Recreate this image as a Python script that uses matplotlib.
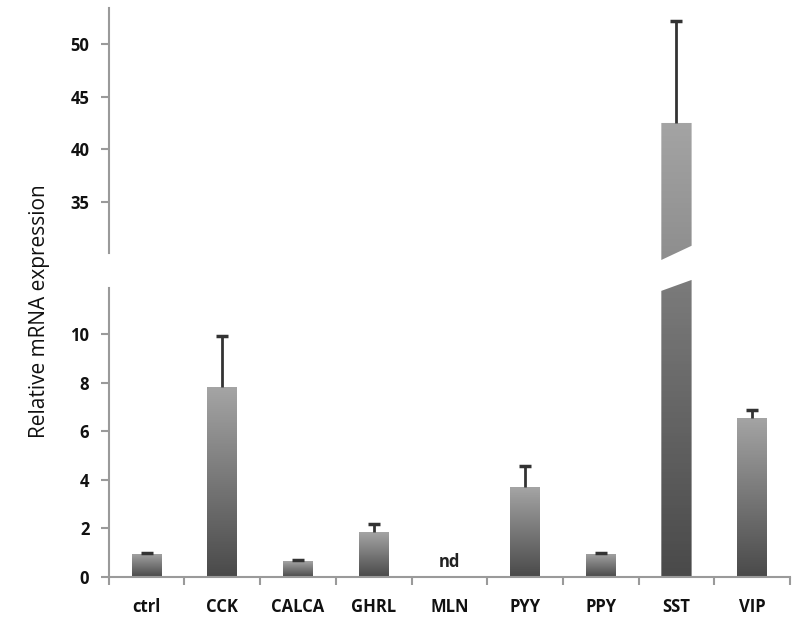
import matplotlib.pyplot as plt
import numpy as np
from matplotlib.colors import LinearSegmentedColormap
from matplotlib.patches import Polygon

genes = ["ctrl", "CCK", "CALCA", "GHRL", "MLN", "PYY", "PPY", "SST", "VIP"]
means = [0.95, 7.8, 0.65, 1.85, 0.0, 3.7, 0.95, 42.5, 6.55]
errs = [0.05, 2.1, 0.05, 0.35, 0.0, 0.85, 0.05, 9.7, 0.3]
nd_genes = ["MLN"]

plt.rcParams['font.family'] = ['Open Sans', 'DejaVu Sans']

grey = "#9a9a9a"
cmap = LinearSegmentedColormap.from_list("bar", ["#4a4a4a", "#a4a4a4"])
width = 0.4
x = np.arange(len(genes))

fig = plt.figure(figsize=(8, 6.23), dpi=100)
ax_lo = fig.add_axes([0.136, 0.0738, 0.8515, 0.480])
ax_hi = fig.add_axes([0.136, 0.581, 0.8515, 0.406])

lo_top, lo_spine = 12.3, 11.9
hi_bot, hi_spine, hi_top = 29.4, 30.2, 53.4


def gradient_bar(ax, x0, y0, y1, c0, c1, verts=None):
    grad = np.linspace(c0, c1, 100).reshape(-1, 1)
    im = ax.imshow(grad, cmap=cmap, vmin=0, vmax=1, origin="lower",
                   extent=(x0 - width / 2, x0 + width / 2, y0, y1),
                   aspect="auto", zorder=2)
    if verts is None:
        verts = [(x0 - width / 2, y0), (x0 + width / 2, y0),
                 (x0 + width / 2, y1), (x0 - width / 2, y1)]
    poly = Polygon(verts, closed=True, facecolor="none", edgecolor="none",
                   transform=ax.transData)
    ax.add_patch(poly)
    im.set_clip_path(poly)


def upper_err(ax, x0, m, e):
    # error bar drawn only upwards, cap at the top
    ax.vlines(x0, m, m + e, color="#333333", linewidth=2, zorder=3)
    ax.plot([x0], [m + e], marker="_", markersize=9, markeredgewidth=2.5,
            color="#333333", zorder=3)


for i, g in enumerate(genes):
    m, e = means[i], errs[i]
    if g in nd_genes:
        ax_lo.text(i, 0.6, "nd", ha="center", va="center", fontsize=12,
                   fontweight="bold", color="#222222")
        continue
    if m <= lo_top:
        gradient_bar(ax_lo, i, 0, m, 0.0, 1.0)
        upper_err(ax_lo, i, m, e)
    else:
        # broken bar: lower piece with slanted top, upper piece with slanted bottom
        verts_lo = [(i - width / 2, 0), (i + width / 2, 0),
                    (i + width / 2, 12.22), (i - width / 2, 11.77)]
        gradient_bar(ax_lo, i, 0, 12.3, 0.0, 0.55, verts_lo)
        verts_hi = [(i - width / 2, 29.5), (i + width / 2, 30.85),
                    (i + width / 2, m), (i - width / 2, m)]
        gradient_bar(ax_hi, i, 29.4, m, 0.75, 1.0, verts_hi)
        upper_err(ax_hi, i, m, e)

for ax in (ax_lo, ax_hi):
    ax.set_xlim(-0.5, len(genes) - 0.5)
    for s in ("top", "right"):
        ax.spines[s].set_visible(False)
    ax.spines["left"].set_color(grey)
    ax.spines["left"].set_linewidth(1.5)
    ax.tick_params(axis="y", direction="out", length=6, width=1.5, color=grey,
                   labelsize=12, labelcolor="#111111", pad=8)

ax_lo.set_ylim(0, lo_top)
ax_lo.spines["left"].set_bounds(0, lo_spine)
ax_lo.set_yticks([0, 2, 4, 6, 8, 10])
ax_lo.spines["bottom"].set_color(grey)
ax_lo.spines["bottom"].set_linewidth(1.5)
ax_lo.set_xticks(np.arange(-0.5, len(genes)), minor=False)
ax_lo.set_xticklabels([])
ax_lo.set_xticks(x, minor=True)
ax_lo.set_xticklabels(genes, minor=True)
ax_lo.tick_params(axis="x", which="major", direction="out", length=6,
                  width=1.5, color=grey)
ax_lo.tick_params(axis="x", which="minor", length=0, pad=15, labelsize=12,
                  labelcolor="#111111")

ax_hi.set_ylim(hi_bot, hi_top)
ax_hi.spines["left"].set_bounds(hi_spine, hi_top)
ax_hi.spines["bottom"].set_visible(False)
ax_hi.set_yticks([35, 40, 45, 50])
ax_hi.set_xticks([])

for ax in (ax_lo, ax_hi):
    for lab in ax.get_yticklabels() + ax.get_xticklabels(minor=True):
        lab.set_fontweight("bold")

fig.text(0.05, 0.5, "Relative mRNA expression", rotation=90, ha="center",
         va="center", fontsize=15, color="#111111")

fig.savefig("out.png", dpi=100)
